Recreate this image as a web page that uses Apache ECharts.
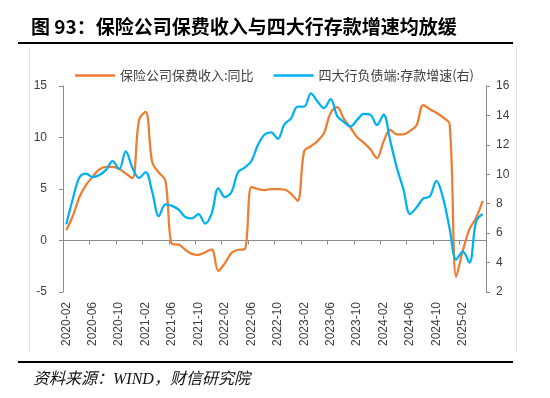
<!DOCTYPE html>
<html>
<head>
<meta charset="utf-8">
<script src="https://cdn.jsdelivr.net/npm/echarts@6/dist/echarts.min.js"></script>
<style>
  html, body { margin: 0; padding: 0; background: #fff; }
  #grafico { width: 550px; height: 398px; }
</style>
</head>
<body>
<div id="grafico"></div>
<script>
// 月份：2020-02 至 2025-05
const meses = [];
for (let y = 2020; y <= 2025; y++) {
  for (let m = 1; m <= 12; m++) {
    if (y === 2020 && m < 2) continue;
    if (y === 2025 && m > 5) break;
    meses.push(y + '-' + String(m).padStart(2, '0'));
  }
}

// 保险公司保费收入:同比 (左轴, %)
const primas = [
  1.0, 2.4, 4.25, 5.4, 6.2, 6.9, 7.15, 7.15, 6.95, 6.5,
  6.05, 11.7, 12.5, 7.6, 6.6, 5.8, -0.35, -0.4, -0.9, -1.3,
  -1.4, -1.15, -0.85, -2.95, -2.2, -1.2, -0.9, -0.85, 5.2, 5.0,
  4.9, 5.0, 5.0, 4.95, 4.55, 3.85, 8.7, 9.15, 9.65, 10.45,
  12.4, 12.95, 11.8, 10.95, 10.05, 9.5, 8.85, 8.0, 9.6, 10.75,
  10.3, 10.3, 10.65, 11.2, 13.15, 12.75, 12.4, 11.95, 11.3, -3.5,
  -1.0, 1.1, 2.2, 3.85
];

// 四大行负债端:存款增速 (右轴, %)
const depositos = [
  6.6, 8.35, 9.8, 10.05, 9.8, 9.95, 10.3, 10.9, 10.35, 11.55,
  10.45, 9.75, 10.15, 8.8, 7.15, 7.95, 7.85, 7.6, 7.1, 7.0,
  7.3, 6.65, 7.35, 9.05, 8.45, 8.8, 10.15, 10.45, 10.9, 12.0,
  12.7, 12.85, 12.4, 13.4, 13.8, 14.6, 14.6, 15.5, 14.95, 14.5,
  15.1, 13.95, 13.55, 13.25, 13.7, 14.1, 14.05, 13.35, 14.05, 12.3,
  10.45, 9.0, 7.3, 7.75, 8.35, 8.5, 9.55, 8.4, 6.3, 4.2,
  4.75, 4.0, 6.8, 7.3
];

const nombres = ['保险公司保费收入:同比', '四大行负债端:存款增速(右)'];
const titulo = '图 93：保险公司保费收入与四大行存款增速均放缓';
const fuente = '资料来源：WIND，财信研究院';

const gris = '#8c8c8c';
const texto = '#404040';
const fuenteNum = '"Liberation Sans", "Noto Sans CJK SC", sans-serif';
const fuenteCjk = '"Noto Sans CJK SC", sans-serif';

const grafico = echarts.init(document.getElementById('grafico'));

grafico.setOption({
  animation: false,
  backgroundColor: '#fff',
  textStyle: { fontFamily: fuenteNum },
  title: {
    text: titulo,
    left: 31,
    top: 17,
    padding: 0,
    textStyle: { fontSize: 19, fontWeight: 'bold', color: '#000', fontFamily: fuenteCjk }
  },
  legend: {
    left: 75,
    top: 69,
    padding: 0,
    icon: 'rect',
    itemWidth: 40,
    itemHeight: 2.5,
    itemGap: 20,
    textStyle: { fontSize: 13, color: texto, fontFamily: fuenteCjk },
    data: nombres
  },
  grid: { left: 63, right: 64, top: 86, bottom: 106 },
  xAxis: [
    {
      // 底部标签
      type: 'category',
      data: meses,
      position: 'bottom',
      axisLine: { show: false, onZero: false },
      axisTick: { show: false },
      axisLabel: { interval: 3, rotate: 90, margin: 10, fontSize: 12, color: texto }
    },
    {
      // 零轴线及刻度
      type: 'category',
      data: meses,
      position: 'bottom',
      axisLine: { show: true, onZero: true, onZeroAxisIndex: 0, lineStyle: { color: gris, width: 1 } },
      axisTick: { show: true, interval: 3, length: 4, lineStyle: { color: gris } },
      axisLabel: { show: false }
    }
  ],
  yAxis: [
    {
      type: 'value',
      position: 'left',
      min: -5,
      max: 15,
      interval: 5,
      axisLine: { show: true, lineStyle: { color: gris } },
      axisTick: { show: true, length: 4, lineStyle: { color: gris } },
      splitLine: { show: false },
      axisLabel: { margin: 16, fontSize: 12, color: texto }
    },
    {
      type: 'value',
      position: 'right',
      min: 2,
      max: 16,
      interval: 2,
      axisLine: { show: true, lineStyle: { color: gris } },
      axisTick: { show: true, length: 4, lineStyle: { color: gris } },
      splitLine: { show: false },
      axisLabel: { margin: 10, fontSize: 12, color: texto }
    }
  ],
  series: [
    {
      name: nombres[0],
      type: 'line',
      xAxisIndex: 0,
      yAxisIndex: 0,
      data: primas,
      symbol: 'none',
      smooth: 0.35,
      lineStyle: { width: 2.25, color: '#ED7D31' },
      itemStyle: { color: '#ED7D31' }
    },
    {
      name: nombres[1],
      type: 'line',
      xAxisIndex: 0,
      yAxisIndex: 1,
      data: depositos,
      symbol: 'none',
      smooth: 0.35,
      lineStyle: { width: 2.25, color: '#00B0F0' },
      itemStyle: { color: '#00B0F0' }
    }
  ],
  graphic: [
    { type: 'line', shape: { x1: 18, y1: 43, x2: 513, y2: 43 }, style: { stroke: '#000', lineWidth: 2 } },
    { type: 'line', shape: { x1: 18, y1: 362, x2: 513, y2: 362 }, style: { stroke: '#000', lineWidth: 2 } },
    { type: 'line', shape: { x1: 29.5, y1: 47, x2: 29.5, y2: 352 }, style: { stroke: '#e0e0e0', lineWidth: 1 } },
    { type: 'line', shape: { x1: 516.5, y1: 47, x2: 516.5, y2: 352 }, style: { stroke: '#e0e0e0', lineWidth: 1 } },
    {
      type: 'text',
      style: {
        text: fuente,
        x: 33,
        y: 380,
        verticalAlign: 'middle',
        fill: '#111',
        font: 'italic 16px "Liberation Serif", "Noto Sans CJK SC", serif'
      }
    }
  ]
});
</script>
</body>
</html>
